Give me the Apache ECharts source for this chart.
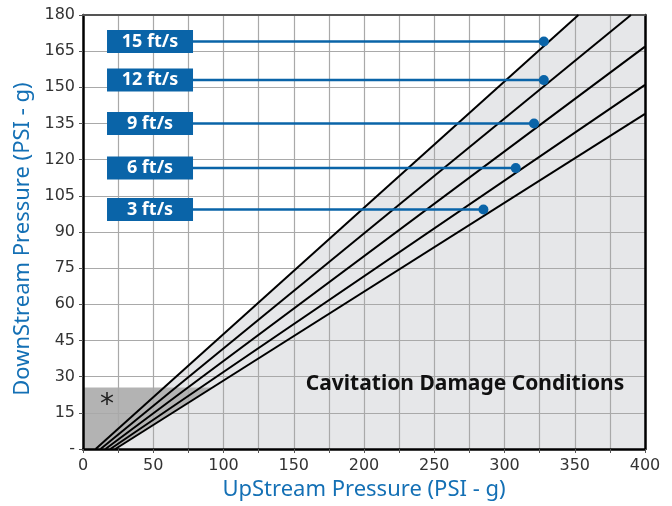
<!DOCTYPE html>
<html><head><meta charset="utf-8">
<script src="https://cdn.jsdelivr.net/npm/echarts@6/dist/echarts.min.js"></script>
<style>html,body{margin:0;padding:0;background:#fff}#c{width:672px;height:506px}</style>
</head><body><div id="c"></div>
<script>
// ---- data ----
const speedLabels = ['3 ft/s', '6 ft/s', '9 ft/s', '12 ft/s', '15 ft/s'];
const pointUpstream = [285, 308, 321, 328, 328];
const pointDownstream = [99.3, 116.5, 135, 153, 169];
const lineStartUp = [23, 19.5, 16, 12.5, 9];
const lineEndUp = [400, 400, 400, 390, 352.6];
const lineEndDown = [139, 151, 166.9, 180, 180];
const darkZoneTop = 25.5;
const xTickValues = [0, 50, 100, 150, 200, 250, 300, 350, 400];
const yTickValues = [0, 15, 30, 45, 60, 75, 90, 105, 120, 135, 150, 165, 180];

// ---- layout/style ----
const BLUE = '#0a64a8';
const NAME_BLUE = '#1470b5';
const X_MIN = 0, X_MAX = 400, Y_MIN = 0, Y_MAX = 180;
const BOX_X = 47.7;

const chart = echarts.init(document.getElementById('c'), null, { renderer: 'canvas' });

const n = speedLabels.length;
const steep = n - 1, shallow = 0;
const lightPoly = [[lineStartUp[steep], 0], [lineEndUp[steep], lineEndDown[steep]], [X_MAX, Y_MAX], [X_MAX, 0]];
const slopeShallow = lineEndDown[shallow] / (lineEndUp[shallow] - lineStartUp[shallow]);
const darkPoly = [[0, 0], [lineStartUp[shallow], 0], [lineStartUp[shallow] + darkZoneTop / slopeShallow, darkZoneTop], [0, darkZoneTop]];

const series = [{
  type: 'custom', z: 0, silent: true, clip: true,
  coordinateSystem: 'cartesian2d', xAxisIndex: 0, yAxisIndex: 0,
  data: [[0, 0]],
  renderItem: function (params, api) {
    return {
      type: 'group',
      children: [
        { type: 'polygon', z2: 0, shape: { points: lightPoly.map(p => api.coord(p)) }, style: { fill: '#e6e7e9' } },
        { type: 'polygon', z2: 1, shape: { points: darkPoly.map(p => api.coord(p)) }, style: { fill: '#b3b3b3' } }
      ]
    };
  }
}];
for (let i = 0; i < n; i++) {
  series.push({
    type: 'line', z: 3, silent: true, showSymbol: false, animation: false,
    data: [[lineStartUp[i], 0], [lineEndUp[i], lineEndDown[i]]],
    lineStyle: { color: '#000', width: 2 }
  });
  series.push({
    type: 'line', z: 4, silent: true, showSymbol: false, animation: false,
    data: [[BOX_X, pointDownstream[i]], [pointUpstream[i], pointDownstream[i]]],
    lineStyle: { color: BLUE, width: 2.5 }
  });
}
series.push({
  type: 'scatter', z: 5, silent: true, symbol: 'circle', symbolSize: 10,
  itemStyle: { color: BLUE, opacity: 1 },
  data: pointUpstream.map((x, i) => [x, pointDownstream[i]])
});
series.push({
  type: 'scatter', z: 6, silent: true, symbol: 'rect', symbolSize: [86, 23],
  itemStyle: { color: BLUE, opacity: 1 },
  label: {
    show: true, position: 'inside', color: '#fff', fontWeight: 'bold', fontSize: 18,
    fontFamily: 'Noto Sans', formatter: p => speedLabels[p.dataIndex]
  },
  data: pointDownstream.map(y => [BOX_X, y])
});

chart.setOption({
  animation: false,
  backgroundColor: '#fff',
  grid: { left: 83, right: 27, top: 15, bottom: 57, containLabel: false },
  xAxis: [{
    type: 'value', min: X_MIN, max: X_MAX, interval: 25, z: 2,
    name: 'UpStream Pressure (PSI - g)', nameLocation: 'middle', nameGap: 27,
    nameTextStyle: { color: NAME_BLUE, fontSize: 22, fontFamily: 'Noto Sans' },
    axisLine: { show: true, onZero: false, lineStyle: { color: '#000', width: 2.5 } },
    axisTick: { show: true, length: 4, lineStyle: { color: '#555', width: 1 } },
    axisLabel: {
      color: '#333', fontSize: 16, fontFamily: 'DejaVu Sans', margin: 9,
      formatter: v => xTickValues.indexOf(v) >= 0 ? String(v) : ''
    },
    splitLine: { show: true, lineStyle: { color: '#a9a9a9', width: 1.2 } }
  }, {
    type: 'value', position: 'top', min: X_MIN, max: X_MAX, z: 2,
    axisLine: { show: true, onZero: false, lineStyle: { color: '#555', width: 2 } },
    axisTick: { show: false }, axisLabel: { show: false }, splitLine: { show: false }
  }],
  yAxis: [{
    type: 'value', min: Y_MIN, max: Y_MAX, interval: 15, z: 2,
    name: 'DownStream Pressure (PSI - g)', nameLocation: 'middle', nameGap: 47,
    nameTextStyle: { color: NAME_BLUE, fontSize: 22, fontFamily: 'Noto Sans', padding: [0, 0, 0, -14] },
    axisLine: { show: true, onZero: false, lineStyle: { color: '#000', width: 2.5 } },
    axisTick: { show: true, length: 4, lineStyle: { color: '#555', width: 1 } },
    axisLabel: {
      color: '#333', fontSize: 16, fontFamily: 'DejaVu Sans', margin: 8,
      formatter: v => yTickValues.indexOf(v) >= 0 ? (v === 0 ? '-' : String(v)) : ''
    },
    splitLine: { show: true, lineStyle: { color: '#a9a9a9', width: 1.2 } }
  }, {
    type: 'value', position: 'right', min: Y_MIN, max: Y_MAX, z: 2,
    axisLine: { show: true, onZero: false, lineStyle: { color: '#000', width: 2.5 } },
    axisTick: { show: false }, axisLabel: { show: false }, splitLine: { show: false }
  }],
  graphic: [{
    type: 'text', z: 10, x: 465, y: 384,
    style: { text: 'Cavitation Damage Conditions', fill: '#111', font: 'bold 21px "Noto Sans"', align: 'center', verticalAlign: 'middle' }
  }, {
    type: 'text', z: 10, x: 107, y: 406,
    style: { text: '*', fill: '#222', font: '28px "DejaVu Sans"', align: 'center', verticalAlign: 'middle' }
  }],
  series: series
});
</script>
</body></html>
